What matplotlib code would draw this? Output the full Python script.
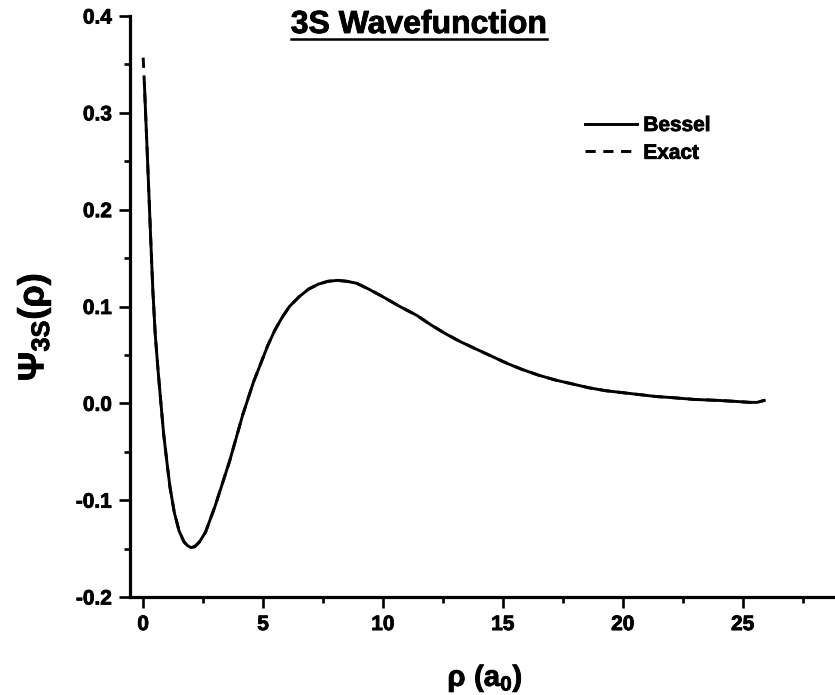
import matplotlib
matplotlib.use('Agg')
import matplotlib.pyplot as plt
import matplotlib.patheffects as pe
from matplotlib.lines import Line2D
from matplotlib.ticker import MultipleLocator, FormatStrFormatter

plt.rcParams['font.family'] = ['Liberation Sans', 'DejaVu Sans']
plt.rcParams['font.weight'] = 'bold'
plt.rcParams['mathtext.fontset'] = 'custom'
plt.rcParams['mathtext.rm'] = 'Liberation Sans:bold'
plt.rcParams['mathtext.bf'] = 'Liberation Sans:bold'
plt.rcParams['mathtext.it'] = 'Liberation Sans:bold'
plt.rcParams['mathtext.default'] = 'bf'

# values
bessel_rho = [0.05, 0.2, 0.3, 0.4, 0.5, 0.62, 0.74, 0.85, 1.0, 1.12, 1.3, 1.5, 1.7, 1.85,
              2.0, 2.15, 2.35, 2.6, 3.0, 3.6, 4.15, 4.6, 4.9, 5.2, 5.5, 5.8, 6.1, 6.5, 6.9,
              7.3, 7.7, 8.1, 8.5, 8.9, 9.4, 10.0, 10.7, 11.4, 12.0, 12.6, 13.2, 13.8, 14.5,
              15.2, 15.8, 16.5, 17.2, 17.9, 18.6, 19.3, 20.0, 20.7, 21.4, 22.0, 23.0, 24.0,
              24.7, 25.3, 25.6, 25.9]
bessel_psi = [0.330, 0.240, 0.178, 0.118, 0.072, 0.034, 0.0, -0.031, -0.063, -0.087, -0.113,
              -0.132, -0.143, -0.147, -0.149, -0.148, -0.143, -0.133, -0.106, -0.060, -0.012,
              0.022, 0.041, 0.060, 0.076, 0.089, 0.100, 0.110, 0.118, 0.123, 0.126, 0.127,
              0.126, 0.124, 0.118, 0.110, 0.100, 0.091, 0.081, 0.072, 0.064, 0.057, 0.049,
              0.041, 0.035, 0.029, 0.024, 0.020, 0.016, 0.013, 0.011, 0.009, 0.007, 0.006,
              0.004, 0.003, 0.002, 0.001, 0.001, 0.003]
exact_rho = [0.0] + bessel_rho
exact_psi = [0.357] + bessel_psi

heavy = [pe.withStroke(linewidth=0.6, foreground='black')]

fig = plt.figure(figsize=(8.35, 6.95), dpi=100)
ax = fig.add_axes([130 / 835, 1 - 597 / 695, 1 - 130 / 835, (597 - 16) / 695])

ex, = ax.plot(exact_rho, exact_psi, color='black', lw=2.1, ls=(0, (3.5, 2.6)), label='Exact', zorder=2)
be, = ax.plot(bessel_rho, bessel_psi, color='black', lw=2.1, label='Bessel', zorder=3)

ax.set_xlim(-0.55, 28.85)
ax.set_ylim(-0.2, 0.4)
ax.xaxis.set_major_locator(MultipleLocator(5))
ax.xaxis.set_minor_locator(MultipleLocator(2.5))
ax.yaxis.set_major_locator(MultipleLocator(0.1))
ax.yaxis.set_minor_locator(MultipleLocator(0.05))
ax.yaxis.set_major_formatter(FormatStrFormatter('%.1f'))

for s in ['top', 'right']:
    ax.spines[s].set_visible(False)
for s in ['left', 'bottom']:
    ax.spines[s].set_linewidth(2.3)
ax.tick_params(which='major', direction='out', length=8, width=1.9, labelsize=15, pad=5)
ax.tick_params(which='minor', direction='out', length=4, width=1.9)
for lab in ax.get_xticklabels() + ax.get_yticklabels():
    lab.set_fontweight('bold')
    lab.set_path_effects(heavy)

leg = ax.legend(handles=[be, ex], frameon=False, loc='upper left',
                bbox_to_anchor=(585 / 835, 1 - 116 / 695), bbox_transform=fig.transFigure,
                borderpad=0, borderaxespad=0, handlelength=2.5, handletextpad=0.3,
                labelspacing=0.42, prop={'size': 15, 'weight': 'bold'})
for t in leg.get_texts():
    t.set_path_effects(heavy)

title = fig.text(419 / 835, 1 - 33 / 695, '3S Wavefunction', ha='center', va='baseline',
                 fontsize=23, fontweight='bold', path_effects=heavy)
fig.canvas.draw()
bb = title.get_window_extent()
uy = 1 - 39 / 695
fig.add_artist(Line2D([bb.x0 / 835, bb.x1 / 835], [uy, uy], color='black', lw=1.8,
                      transform=fig.transFigure))

fig.text(34 / 835, 1 - 327 / 695, r'$Ψ_{3S}(ρ)$', rotation=90, ha='center', va='center',
         fontsize=26, path_effects=heavy)
fig.text(485 / 835, 1 - 678 / 695, r'$ρ\ (a_0)$', ha='center', va='center', fontsize=21,
         path_effects=heavy)

fig.savefig('out.png', dpi=100)
